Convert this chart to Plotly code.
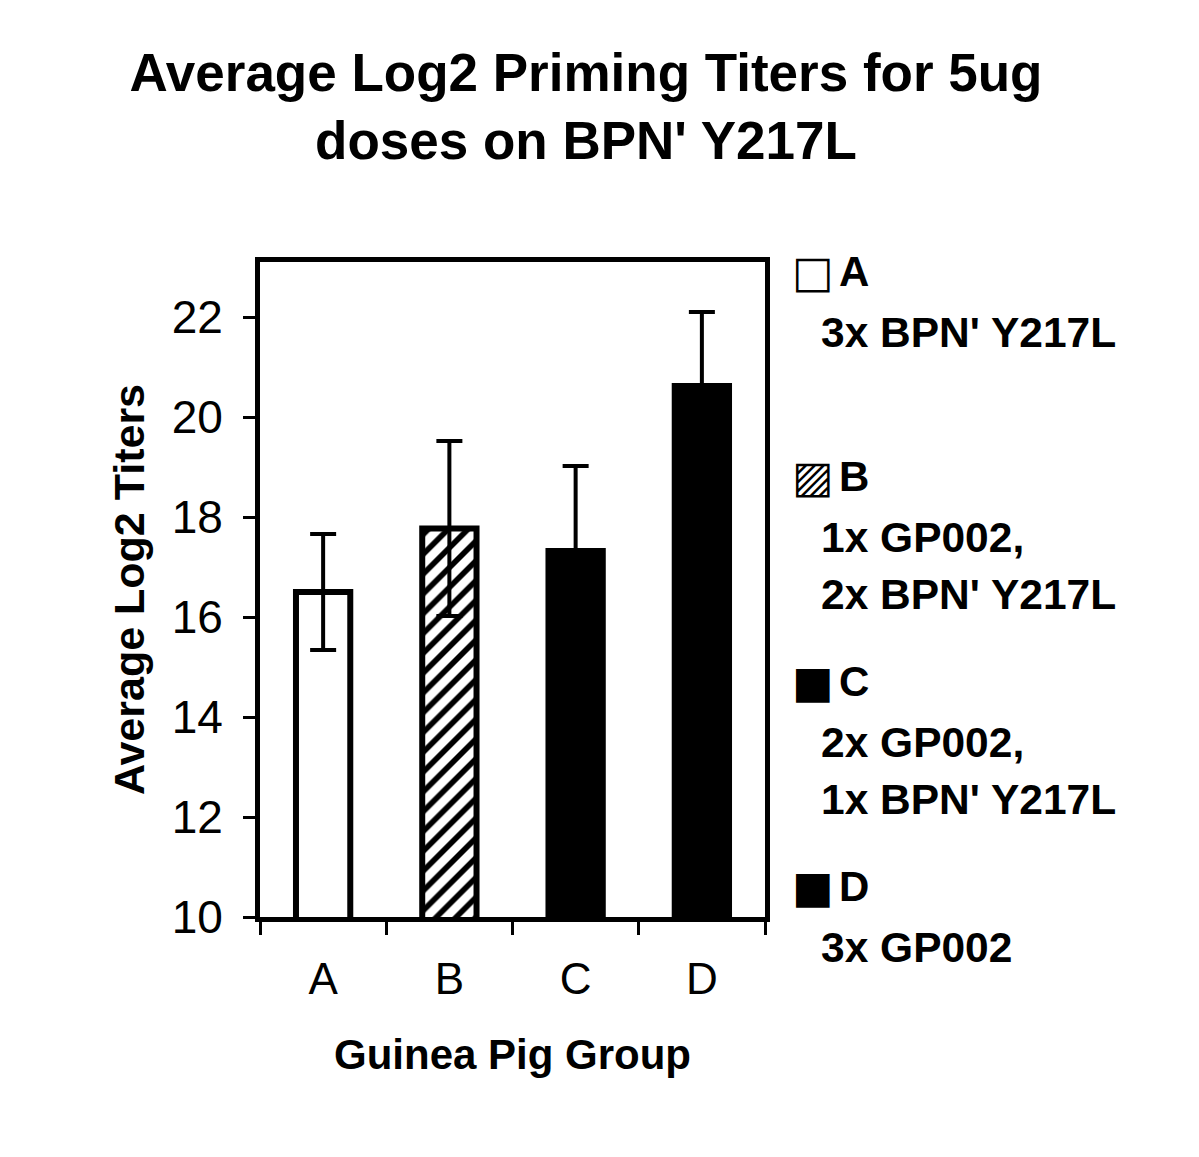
import plotly.graph_objects as go

# ---- data ----
groups = ["A", "B", "C", "D"]
means = [16.5, 17.77, 17.32, 20.62]
errors = [1.16, 1.75, 1.70, 1.48]
y_ticks = [10, 12, 14, 16, 18, 20, 22]
legend_icons = ["\u25A1", "\u25A8", "\u25A0", "\u25A0"]
legend_desc = [
    ["3x BPN' Y217L"],
    ["1x GP002,", "2x BPN' Y217L"],
    ["2x GP002,", "1x BPN' Y217L"],
    ["3x GP002"],
]
title_text = "Average Log2 Priming Titers for 5ug<br>doses on BPN' Y217L"
x_title = "Guinea Pig Group"
y_title = "Average Log2 Titers"

# ---- styles ----
fills = ["white", "black", "black", "black"]
pattern_shapes = ["", "/", "", ""]
BOLD = "Liberation Sans"
OFF = 8  # page body margin
W, H = 1199 - OFF, 1157 - OFF
# plot area in page pixels: x 260..765, y 262..917
L, R, T, B = 260 - OFF, W - (765 - OFF), 262 - OFF, H - (917 - OFF)

fig = go.Figure()
fig.add_trace(go.Bar(
    x=groups, y=means, width=0.43,
    marker=dict(
        color=fills,
        line=dict(color="black", width=6),
        pattern=dict(shape=pattern_shapes, bgcolor="black", fgcolor="white",
                     size=14, solidity=0.4, fillmode="replace"),
    ),
    error_y=dict(type="data", array=errors, visible=True, color="black",
                 thickness=4, width=13),
    showlegend=False,
))

pw = W - L - R
ph = H - T - B


def xp(px):  # page px -> paper
    return (px - OFF - L) / pw


def yp(py):  # page px -> paper
    return (H - B - (py - OFF)) / ph


annotations = []
row0, row_gap, first_line, line_gap = 271, 205.3, 61, 57
for i, (g, icon, lines) in enumerate(zip(groups, legend_icons, legend_desc)):
    ry = row0 + i * row_gap
    annotations.append(dict(text=icon, x=xp(790), y=yp(ry), xref="paper", yref="paper",
                            xanchor="left", yanchor="middle", showarrow=False,
                            font=dict(family="DejaVu Sans", size=44, color="black")))
    annotations.append(dict(text=g, x=xp(837), y=yp(ry), xref="paper", yref="paper",
                            xanchor="left", yanchor="middle", showarrow=False,
                            font=dict(family=BOLD, size=42, color="black", weight="bold")))
    for j, ln in enumerate(lines):
        ly = ry + first_line + j * line_gap
        annotations.append(dict(text=ln, x=xp(819), y=yp(ly), xref="paper", yref="paper",
                                xanchor="left", yanchor="middle", showarrow=False,
                                font=dict(family=BOLD, size=42.5, color="black", weight="bold")))

fig.update_layout(
    width=W, height=H,
    margin=dict(l=L, r=R, t=T, b=B),
    paper_bgcolor="white", plot_bgcolor="white",
    title=dict(text=title_text, x=(586 - OFF) / W, xanchor="center", xref="container",
               y=1 - 82.5 / H, yanchor="middle", yref="container",
               font=dict(family=BOLD, size=53, color="black", weight="bold")),
    annotations=annotations,
)
fig.update_xaxes(
    type="category", categoryorder="array", categoryarray=groups, range=[-0.5, 3.5],
    showline=True, linewidth=5, linecolor="black", mirror=True,
    ticks="outside", tickson="boundaries", ticklen=13, tickwidth=3, tickcolor="black",
    tickfont=dict(family="Liberation Sans", size=44, color="black"),
    ticklabelstandoff=19,
    showgrid=False,
    title=dict(text=x_title, standoff=39,
               font=dict(family=BOLD, size=42, color="black", weight="bold")),
)
fig.update_yaxes(
    range=[10, 23.1], tickvals=y_ticks,
    showline=True, linewidth=5, linecolor="black", mirror=True,
    ticks="outside", ticklen=12, tickwidth=3, tickcolor="black",
    tickfont=dict(family="Liberation Sans", size=46, color="black"),
    ticklabelstandoff=11,
    showgrid=False, zeroline=False,
    title=dict(text=y_title, standoff=15,
               font=dict(family=BOLD, size=43, color="black", weight="bold")),
)

fig.write_html("out.html")
